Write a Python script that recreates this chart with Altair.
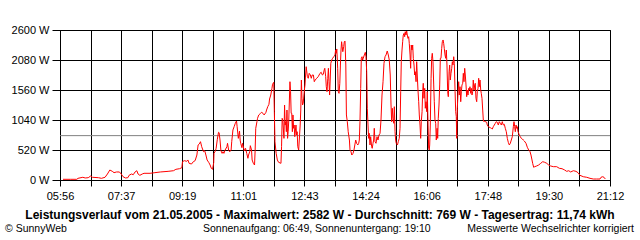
import altair as alt
import pandas as pd

# time of day in minutes since midnight
times_min = [361,373,384,386,394,398,403,407,410,420,425,431,435,439,443,446,450,455,458,461,465,469,471,475,478,481,484,486,489,493,496,506,514,523,
536,545,549,555,559,560,563,567,569,571,575,578,581,584,586,588,590,592,595,597,599,601,604,606,608,610,612,612.5,615,616,618,620,621,622.5,624,626,627.5,629,631,634,635,637,639,641,642,644,646,648,650,651,
653,655,656,657,659,660,661,663,665,667,669,670,672,673,675,676,678,680,681,682,684,685,687,690,692,694,696,699,700,702,704,705,707,709,710,712,713,714,716,718,720,724,725,726,727,729,730,731,732,733,734,735,736,737,739,740,741,742,743,744,745,746,747,749,750,751,752,753.5,754.5,756,757,758,759,760,761,763,764,765,766,768,769.5,771,773,774.5,776,778,779.5,781,783.5,786,789,791,793,794.5,796,797,798.5,799.5,800.7,802,803,804,805,806,807,808.5,810,812,
814,815,816,817,818.5,819.5,820.7,822,823,824,825,826,827,828.5,829.5,830.7,832,833,834.5,836,838,839,840.6,842,844,845.6,847,848.5,850,852,853.5,854.5,855.6,856.8,857.8,859,860,861,862.8,864.5,865.6,866.8,867.8,869,870,871,872.3,873.4,875,876,877.3,878.4,879.4,880.6,882.3,884,885.6,887.3,889,890.6,892.3,894,895.6,897.3,899,901,902.8,904.4,906,907.3,908.4,909.4,910.6,911.8,912.8,914,915,916,918,919.4,921,922.3,923.4,924.4,925.6,926.7,927.7,929,930,931,932.2,933.4,934.4,935.6,936.7,937.7,939,940,941,942.2,943.4,944.4,945.6,946.7,947.7,949,950,951,952.2,953.4,954.4,955.6,956.7,957.7,959,960,961,962.2,963.4,964.4,965.6,966.7,967.7,969,970,971,
971.7,972.7,974,975,976,977.2,978.4,979.4,980.5,981.7,982.7,984,985,986,987.2,988.4,989.4,990.5,991.7,992.7,994,995,996,997.2,998.4,999.4,1000.5,1001.7,1002.7,1004,1005,1006,1007.2,1008.4,1009.4,1010.5,1011.7,1012.7,1014,1015,1016,1016.7,1017.7,1019,1020,1021,1022.2,1023.4,1024.4,1025.5,1026.7,1027.7,1028.8,1030,1031,1032.2,1033.3,1034.3,1035.5,1036.7,1037.7,1038.8,1040,1041,1042.2,1043.3,1044.3,1045.5,1046.7,1047.6,1048.8,1050,1051,1052.2,1053.3,1054.3,1055.5,1056.7,1057.6,1058.8,1060,1061,1062.2,1063.3,1064.3,1066.7,1067.6,1069.3,1072.7,1074.3,1076,1077.6,1079.3,1081,1082.6,1084.3,1086,1087.6,1089.3,1091,1092.6,1094.3,1096,1097.6,1099.3,1101,1102.6,1104.3,1106,1107.6,1109.3,1111,1112.1,1113.3,1114.3,1115.5,1116.6,1117.6,1118.8,1119.9,1120.9,1122.6,1124.3,1126,1127.6,1129.3,
1132.1,1134.3,1136.6,1138.8,1140.4,1142.1,1143.2,1144.9,1146.6,1149.9,1153.2,1156.6,1159.9,1163.2,1166.6,1169.9,1173.2,1177.6,1183.2,1187.6,1192.1,1196.5,1199.9,1203.2,1206.5,1210.9,1215.4,1218.7,1222,1227.5,1233.2,1238.7,1244.2,1249.8,1255.3,1257,1259.8,1262,1264.2]

# power in W
watts = [12,12,12,29,47,35,40,69,47,40,29,47,104,173,151,127,139,139,104,57,35,40,81,104,92,139,161,104,81,104,116,116,127,139,
150,161,185,196,213,317,335,324,347,289,277,317,335,433,607,624,664,577,491,508,433,347,300,260,203,185,300,462,508,549,705,827,820,693,508,462,491,462,520,577,636,508,491,520,664,867,924,983,1023,924,
722,849,693,636,560,636,595,503,549,462,376,433,491,595,520,347,289,260,520,896,1011,1069,1127,1156,1173,1156,1127,1173,1213,1271,1312,1404,1473,1589,1659,1693,1184,664,462,347,307,289,577,1069,1040,722,1300,953,1011,837,1213,722,837,1040,1704,1531,1156,1156,837,1127,896,953,751,953,780,837,577,520,693,953,1213,1733,1416,1300,1329,1560,1647,1820,1964,1791,1763,1849,1820,1763,1820,1820,1704,1733,1763,1791,1849,1867,1820,1832,1907,1936,1791,1617,1531,1763,1936,1704,1473,1733,2023,2080,2109,2137,
2167,2253,2196,2271,1936,1531,1502,1676,1993,2253,2397,2311,2224,2311,2397,2409,1993,1127,1011,837,693,520,491,433,462,520,607,693,636,607,636,693,1011,1589,2109,2137,2080,2109,2167,2213,2137,1877,1243,953,722,809,607,751,577,549,636,693,896,664,636,751,693,780,809,1040,1473,1704,2023,2137,2167,2236,2167,2080,1820,1300,1011,1243,1069,983,1271,837,693,636,607,664,722,896,1531,2051,2253,2397,2513,2542,2484,2571,2513,2582,2513,2455,2484,2369,2167,1936,2340,2253,2340,2109,1993,1820,1877,1704,2051,1820,1560,1357,1127,953,722,1011,1184,1531,1676,1416,1589,1243,1357,1184,1531,953,549,520,
607,953,1763,2109,2196,2051,1647,1357,1040,983,693,896,722,1069,1300,1647,2109,2109,2282,2397,2427,2369,2282,2167,2109,2253,1993,1531,1444,1877,1993,1733,1849,1936,2051,1993,2137,2023,1531,1184,1098,722,1243,1531,1704,1473,1617,1357,1531,1647,1676,1849,1704,1936,1820,1647,1444,1560,1473,1589,1560,1617,1502,1589,1473,1531,1733,1560,1647,1676,1416,1357,1531,1589,1763,1617,1733,1560,1502,1416,1213,1040,1011,1023,1011,1000,953,924,907,896,884,924,953,983,1011,1000,953,1011,983,953,1011,953,965,896,837,722,653,607,636,693,751,924,1011,924,837,953,896,924,837,809,780,751,722,711,693,676,
636,567,520,491,433,347,289,220,231,243,260,289,317,307,289,260,243,231,231,203,196,173,150,161,139,161,150,127,81,57,47,29,17,17,17,47,57,47,17]

average_w = [769]
y_ticks = [0, 520, 1040, 1560, 2080, 2600]
x_label_list = ["05:56", "07:37", "09:19", "11:01", "12:43", "14:24", "16:06", "17:48", "19:30", "21:12"]
x_start, x_end = 356, 1272
x_ticks = [x_start + k * (x_end - x_start) / 18 for k in range(19)]

title_text = "Leistungsverlauf vom 21.05.2005 - Maximalwert: 2582 W - Durchschnitt: 769 W - Tagesertrag: 11,74 kWh"
footer_left = "© SunnyWeb"
footer_mid = "Sonnenaufgang: 06:49, Sonnenuntergang: 19:10"
footer_right = "Messwerte Wechselrichter korrigiert"

df = pd.DataFrame({"t": times_min, "w": watts, "i": list(range(len(watts)))})
avg_df = pd.DataFrame({"w": average_w})

FONT = "Liberation Sans"

label_expr = (
    "(round((datum.value-356)/50.8889) % 2 == 0) ? "
    "((floor(datum.value/60) < 10 ? '0' : '') + floor(datum.value/60) + ':' + "
    "(floor(datum.value%60) < 10 ? '0' : '') + floor(datum.value%60)) : ''"
)

xscale = alt.Scale(domain=[x_start, x_end], nice=False, zero=False)
yscale = alt.Scale(domain=[0, 2600], nice=False)

y_axis = alt.Axis(
    values=y_ticks, labelExpr="datum.value + ' W'", title=None, grid=True,
    gridColor="#000000", gridOpacity=1, gridWidth=1,
    tickColor="#000000", tickSize=8, domainColor="#000000",
    labelFont=FONT, labelFontSize=11, labelColor="#000000", labelPadding=3,
    labelFlush=False, labelOverlap=False)

x_axis = alt.Axis(
    values=x_ticks, labelExpr=label_expr, title=None, grid=True,
    gridColor="#000000", gridOpacity=1, gridWidth=1,
    tickColor="#000000", tickSize=6, domainColor="#000000",
    labelFont=FONT, labelFontSize=11, labelColor="#000000", labelPadding=4,
    labelFlush=False, labelOverlap=False)

avg = alt.Chart(avg_df).mark_rule(color="#808080", strokeWidth=1).encode(
    y=alt.Y("w:Q", scale=yscale, axis=y_axis)
)

line = alt.Chart(df).mark_line(color="#ff0000", strokeWidth=1, clip=True).encode(
    x=alt.X("t:Q", scale=xscale, axis=x_axis),
    y=alt.Y("w:Q", scale=yscale, axis=y_axis),
    order="i:Q",
)

one = alt.Data(values=[{}])

def txt(s, x, y, align="left", bold=False, size=11):
    return alt.Chart(one).mark_text(
        align=align, baseline="middle", font=FONT, fontSize=size,
        fontWeight="bold" if bold else "normal", color="#000000"
    ).encode(x=alt.value(x), y=alt.value(y), text=alt.value(s))

chart = alt.layer(
    avg, line,
    txt(title_text, 260, 185, align="center", bold=True, size=12),
    txt(footer_left, -55, 199, size=10.5),
    txt(footer_mid, 143, 199, size=10.5),
    txt(footer_right, 574, 199, align="right", size=10.5),
).properties(
    width=550, height=150,
    autosize=alt.AutoSizeParams(type="none"),
    padding={"left": 60, "top": 30, "right": 30, "bottom": 60},
    background="#ffffff",
).configure_view(stroke="#000000", strokeWidth=1)

chart.save("out.html", embed_options={"renderer": "svg", "actions": False})
